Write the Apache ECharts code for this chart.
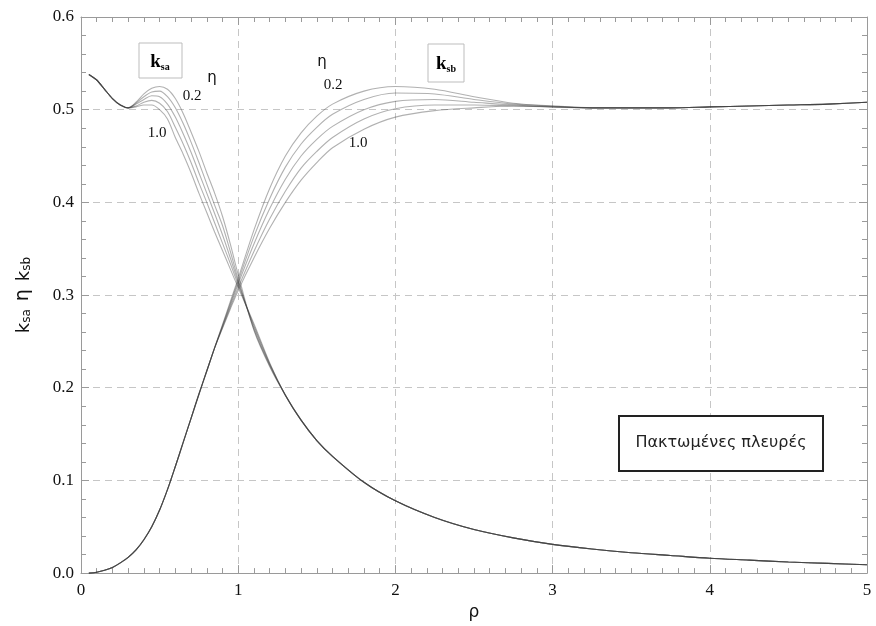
<!DOCTYPE html>
<html>
<head>
<meta charset="utf-8">
<script src="https://cdn.jsdelivr.net/npm/echarts@6/dist/echarts.min.js"></script>
<style>html,body{margin:0;padding:0;background:#fff;}#c{width:876px;height:626px;}</style>
</head>
<body>
<div id="c"></div>
<script>
// ρ grid
const rho = [0.05,0.1,0.15,0.2,0.25,0.3,0.35,0.4,0.45,0.5,0.55,0.6,0.65,0.7,0.75,0.8,0.85,0.9,0.95,1.0,
             1.1,1.2,1.3,1.4,1.5,1.6,1.8,2.0,2.25,2.5,2.75,3.0,3.25,3.5,3.75,4.0,4.25,4.5,4.75,5.0];
const etaLabels = ['0.2','0.4','0.6','0.8','1.0'];
const xTicks = [0,1,2,3,4,5];
const yTicks = [0.0,0.1,0.2,0.3,0.4,0.5,0.6];

// k_sa : common start (ρ 0.05–0.3), η-dependent middle (ρ 0.35–1.2), common tail (ρ 1.3–5)
const ksaHead = [0.538,0.532,0.522,0.512,0.505,0.502];
const ksaMid_02 = [0.508,0.517,0.523,0.525,0.522,0.512,0.496,0.476,0.455,0.432,0.410,0.385,0.355,0.322,0.262,0.223];
const ksaMid_04 = [0.507,0.514,0.519,0.520,0.514,0.502,0.485,0.465,0.443,0.420,0.397,0.375,0.347,0.317,0.263,0.224];
const ksaMid_06 = [0.506,0.511,0.515,0.514,0.506,0.492,0.474,0.454,0.432,0.410,0.388,0.365,0.340,0.314,0.265,0.225];
const ksaMid_08 = [0.504,0.508,0.510,0.507,0.498,0.481,0.463,0.443,0.421,0.400,0.378,0.356,0.334,0.311,0.267,0.226];
const ksaMid_10 = [0.503,0.505,0.505,0.500,0.490,0.470,0.452,0.432,0.410,0.389,0.368,0.348,0.328,0.308,0.269,0.227];
const ksaTail = [0.192,0.165,0.143,0.126,0.098,0.078,0.060,0.047,0.038,0.031,0.026,0.022,0.019,0.016,0.014,0.012,0.0105,0.009];

// k_sb : common start (ρ 0.05–0.85), η-dependent middle (ρ 0.9–3.0), common tail (ρ 3.25–5)
const ksbHead = [0.000,0.001,0.003,0.006,0.011,0.017,0.025,0.036,0.050,0.068,0.090,0.115,0.141,0.167,0.193,0.218,0.243];
const ksbMid_02 = [0.268,0.293,0.318,0.370,0.415,0.450,0.475,0.493,0.506,0.520,0.525,0.522,0.514,0.507,0.504];
const ksbMid_04 = [0.267,0.291,0.315,0.363,0.404,0.438,0.463,0.481,0.495,0.511,0.518,0.517,0.511,0.506,0.504];
const ksbMid_06 = [0.266,0.289,0.312,0.355,0.393,0.425,0.450,0.468,0.482,0.500,0.509,0.511,0.508,0.505,0.503];
const ksbMid_08 = [0.265,0.287,0.308,0.347,0.382,0.412,0.437,0.455,0.470,0.490,0.501,0.505,0.505,0.504,0.503];
const ksbMid_10 = [0.264,0.285,0.305,0.340,0.372,0.400,0.424,0.443,0.459,0.479,0.492,0.499,0.502,0.504,0.503];
const ksbTail = [0.502,0.502,0.502,0.503,0.504,0.505,0.506,0.508];

const ksaMids = [ksaMid_02,ksaMid_04,ksaMid_06,ksaMid_08,ksaMid_10];
const ksbMids = [ksbMid_02,ksbMid_04,ksbMid_06,ksbMid_08,ksbMid_10];

const chart = echarts.init(document.getElementById('c'), null, {renderer:'canvas'});
const lineCol = '#333333';
const series = [];
function mk(name, vals){
  return {
    name: name, type:'line', showSymbol:false, symbol:'none', smooth:0.3,
    data: rho.map((r,i)=>[r, vals[i]]),
    lineStyle:{color:lineCol, width:1.1, opacity:0.38}, z:3, silent:true
  };
}
etaLabels.forEach((e,k)=>{
  series.push(mk('ksa '+e, ksaHead.concat(ksaMids[k], ksaTail)));
  series.push(mk('ksb '+e, ksbHead.concat(ksbMids[k], ksbTail)));
});

const numFont = 'Liberation Serif';
const axisCol = '#9a9a9a';
const gridLine = {show:true, lineStyle:{color:'#c6c6c6', type:[7,5], width:1}};
const subRich = {
  k:{fontFamily:'DejaVu Sans', fontSize:18, color:'#111', lineHeight:22, verticalAlign:'bottom'},
  s:{fontFamily:'DejaVu Sans', fontSize:12, color:'#111', lineHeight:14, verticalAlign:'bottom'},
  t:{fontFamily:'DejaVu Sans', fontSize:19, color:'#111', lineHeight:22, verticalAlign:'bottom', padding:[0,8,0,8]}
};

const option = {
  animation:false,
  backgroundColor:'#fff',
  grid:{left:81, right:9, top:17, bottom:46, containLabel:false},
  xAxis:[{
    type:'value', min:xTicks[0], max:xTicks[xTicks.length-1], interval:1, position:'bottom',
    axisLine:{show:true, onZero:false, lineStyle:{color:axisCol}},
    axisTick:{show:true, inside:true, length:8, lineStyle:{color:axisCol}},
    minorTick:{show:true, splitNumber:10, length:5, lineStyle:{color:axisCol}},
    splitLine:gridLine,
    axisLabel:{fontFamily:numFont, fontSize:17, color:'#111', margin:9},
    name:'ρ', nameLocation:'middle', nameGap:28,
    nameTextStyle:{fontFamily:'DejaVu Sans', fontSize:17, color:'#111'}
  },{
    type:'value', min:xTicks[0], max:xTicks[xTicks.length-1], interval:1, position:'top',
    axisLine:{show:true, onZero:false, lineStyle:{color:axisCol}},
    axisTick:{show:true, inside:true, length:8, lineStyle:{color:axisCol}},
    minorTick:{show:true, splitNumber:10, length:5, lineStyle:{color:axisCol}},
    splitLine:{show:false}, axisLabel:{show:false}
  }],
  yAxis:[{
    type:'value', min:yTicks[0], max:yTicks[yTicks.length-1], interval:0.1, position:'left',
    axisLine:{show:true, onZero:false, lineStyle:{color:axisCol}},
    axisTick:{show:true, inside:true, length:8, lineStyle:{color:axisCol}},
    minorTick:{show:true, splitNumber:5, length:5, lineStyle:{color:axisCol}},
    splitLine:gridLine,
    axisLabel:{fontFamily:numFont, fontSize:17, color:'#111', margin:7, formatter:v=>v.toFixed(1)},
    name:'{k|k}{s|sa}{t|η}{k|k}{s|sb}', nameLocation:'middle', nameGap:48, nameRotate:90,
    nameTextStyle:{rich:subRich}
  },{
    type:'value', min:yTicks[0], max:yTicks[yTicks.length-1], interval:0.1, position:'right',
    axisLine:{show:true, onZero:false, lineStyle:{color:axisCol}},
    axisTick:{show:true, inside:true, length:8, lineStyle:{color:axisCol}},
    minorTick:{show:true, splitNumber:5, length:5, lineStyle:{color:axisCol}},
    splitLine:{show:false}, axisLabel:{show:false}
  }],
  series: series,
  graphic:[
    {type:'rect', shape:{x:139, y:43, width:43, height:35}, style:{fill:'#fff', stroke:'#bdbdbd', lineWidth:1}, z:10},
    {type:'text', x:160, y:61, z:11, style:{text:'{k|k}{s|sa}', align:'center', verticalAlign:'middle',
      rich:{k:{fontFamily:numFont, fontSize:19, fontWeight:'bold', color:'#222', lineHeight:22, verticalAlign:'bottom'},
            s:{fontFamily:numFont, fontSize:10, fontWeight:'bold', color:'#222', lineHeight:12, verticalAlign:'bottom'}}}},
    {type:'rect', shape:{x:428, y:44, width:36, height:38}, style:{fill:'#fff', stroke:'#bdbdbd', lineWidth:1}, z:10},
    {type:'text', x:446, y:63, z:11, style:{text:'{k|k}{s|sb}', align:'center', verticalAlign:'middle',
      rich:{k:{fontFamily:numFont, fontSize:19, fontWeight:'bold', color:'#222', lineHeight:22, verticalAlign:'bottom'},
            s:{fontFamily:numFont, fontSize:10, fontWeight:'bold', color:'#222', lineHeight:12, verticalAlign:'bottom'}}}},
    {type:'text', x:192, y:96, z:11, style:{text:'0.2', fontFamily:numFont, fontSize:15, fill:'#111', align:'center', verticalAlign:'middle'}},
    {type:'text', x:212, y:78, z:11, style:{text:'η', fontFamily:'DejaVu Sans', fontSize:15, fill:'#111', align:'center', verticalAlign:'middle'}},
    {type:'text', x:157, y:133, z:11, style:{text:'1.0', fontFamily:numFont, fontSize:15, fill:'#111', align:'center', verticalAlign:'middle'}},
    {type:'text', x:322, y:62, z:11, style:{text:'η', fontFamily:'DejaVu Sans', fontSize:15, fill:'#111', align:'center', verticalAlign:'middle'}},
    {type:'text', x:333, y:85, z:11, style:{text:'0.2', fontFamily:numFont, fontSize:15, fill:'#111', align:'center', verticalAlign:'middle'}},
    {type:'text', x:358, y:143, z:11, style:{text:'1.0', fontFamily:numFont, fontSize:15, fill:'#111', align:'center', verticalAlign:'middle'}},
    {type:'rect', shape:{x:619, y:416, width:204, height:55}, style:{fill:'#fff', stroke:'#222', lineWidth:2}, z:10},
    {type:'text', x:721, y:443, z:11, style:{text:'Πακτωμένες πλευρές', fontFamily:'DejaVu Sans', fontSize:16, fill:'#222', align:'center', verticalAlign:'middle'}}
  ]
};
chart.setOption(option);
</script>
</body>
</html>
